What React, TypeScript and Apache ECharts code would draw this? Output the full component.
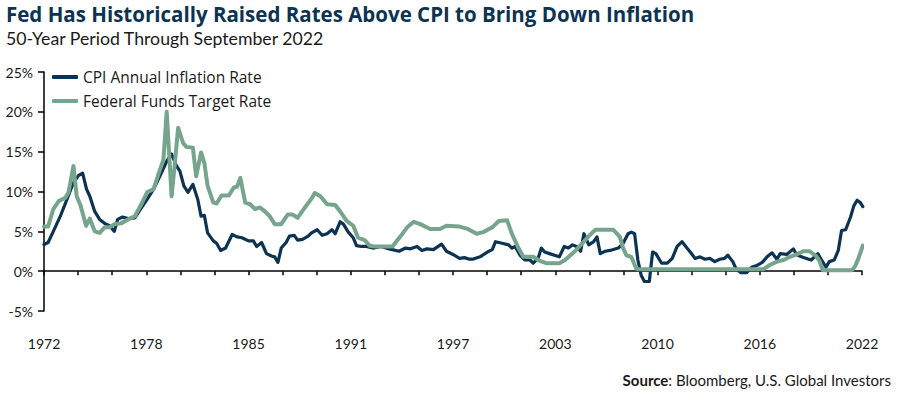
import React, { useEffect, useRef } from "react";
import * as echarts from "echarts";

const tickLabels = ["1972", "1978", "1985", "1991", "1997", "2003", "2010", "2016", "2022"];

const cpiYears = [
  1972.0, 1972.25, 1972.57, 1973.0, 1973.4, 1973.8, 1974.1, 1974.36, 1974.6, 1974.8,
  1975.1, 1975.4, 1975.7, 1976.0, 1976.3, 1976.5, 1976.8, 1977.15, 1977.55, 1977.9,
  1978.3, 1978.7, 1979.1, 1979.5, 1979.8, 1980.1, 1980.3, 1980.55, 1980.8, 1981.1,
  1981.4, 1981.6, 1981.8, 1982.0, 1982.35, 1982.55, 1982.8, 1983.1, 1983.5, 1983.8,
  1984.1, 1984.5, 1984.8, 1985.0, 1985.3, 1985.6, 1985.9, 1986.1, 1986.3, 1986.5,
  1986.8, 1987.0, 1987.3, 1987.5, 1987.8, 1988.15, 1988.35, 1988.7, 1989.0, 1989.3,
  1989.6, 1989.8, 1990.1, 1990.3, 1990.6, 1990.9, 1991.1, 1991.4, 1991.7, 1992.1,
  1992.6, 1993.1, 1993.7, 1994.1, 1994.4, 1994.8, 1995.1, 1995.4, 1995.8, 1996.3,
  1996.6, 1997.0, 1997.4, 1997.7, 1998.0, 1998.2, 1998.65, 1999.1, 1999.4, 1999.6,
  2000.0, 2000.4, 2000.6, 2000.8, 2001.1, 2001.4, 2001.7, 2001.9, 2002.2, 2002.4,
  2002.6, 2002.9, 2003.2, 2003.5, 2003.8, 2004.05, 2004.3, 2004.55, 2004.8, 2005.0,
  2005.3, 2005.6, 2005.8, 2006.0, 2006.3, 2006.6, 2007.1, 2007.4, 2007.7, 2007.9,
  2008.1, 2008.3, 2008.5, 2008.7, 2009.0, 2009.2, 2009.4, 2009.75, 2010.1, 2010.4,
  2010.7, 2011.0, 2011.3, 2011.5, 2011.8, 2012.1, 2012.4, 2012.7, 2013.0, 2013.3,
  2013.6, 2013.8, 2014.1, 2014.3, 2014.6, 2014.95, 2015.25, 2015.56, 2015.9, 2016.2,
  2016.5, 2016.8, 2017.0, 2017.4, 2017.8, 2018.0, 2018.3, 2018.6, 2018.9, 2019.3,
  2019.5, 2019.8, 2020.0, 2020.3, 2020.55, 2020.75, 2021.0, 2021.3, 2021.5, 2021.7,
  2021.9, 2022.05,
];
const cpiValues = [
  3.35, 3.6, 5.0, 6.9, 9.0, 11.1, 12.0, 12.3, 10.3, 9.4,
  7.5, 6.5, 6.0, 5.7, 5.0, 6.5, 6.8, 6.6, 6.7, 7.8,
  9.0, 10.3, 12.0, 13.8, 14.7, 13.2, 12.6, 10.7, 9.9, 10.9,
  9.0, 6.9, 7.0, 4.8, 3.8, 3.5, 2.6, 2.9, 4.6, 4.3,
  4.2, 3.8, 3.8, 3.1, 3.6, 2.2, 1.9, 1.8, 1.1, 2.9,
  3.6, 4.4, 4.5, 3.9, 4.0, 4.4, 4.8, 5.2, 4.5, 4.7,
  5.2, 4.7, 6.2, 5.9, 4.9, 4.2, 3.2, 3.1, 3.1, 2.9,
  3.1, 2.8, 2.5, 2.9, 2.8, 3.1, 2.6, 2.8, 2.7, 3.4,
  2.5, 2.1, 1.6, 1.7, 1.5, 1.5, 1.8, 2.4, 2.7, 3.7,
  3.5, 3.3, 2.9, 3.1, 2.0, 1.4, 1.4, 1.0, 1.6, 2.9,
  2.4, 2.2, 2.0, 1.8, 3.1, 2.9, 3.3, 3.1, 2.5, 4.7,
  3.3, 3.7, 4.3, 2.2, 2.5, 2.6, 2.9, 3.5, 4.7, 4.9,
  4.7, 1.4, -0.5, -1.3, -1.3, 2.4, 2.2, 1.0, 1.0, 1.6,
  3.1, 3.7, 2.9, 2.4, 1.6, 1.8, 1.5, 1.6, 1.2, 1.5,
  1.6, 2.0, 1.2, 0.3, -0.2, -0.2, 0.5, 0.7, 1.1, 1.8,
  2.3, 1.5, 2.2, 2.1, 2.8, 2.1, 1.8, 1.6, 1.4, 2.2,
  1.5, 0.5, 1.2, 1.4, 2.6, 5.1, 5.2, 6.8, 8.2, 8.9,
  8.6, 8.1,
];

const fedYears = [
  1972.0, 1972.25, 1972.57, 1972.9, 1973.3, 1973.5, 1973.8, 1974.0, 1974.24, 1974.57,
  1974.8, 1975.1, 1975.4, 1975.7, 1976.0, 1976.3, 1976.7, 1977.15, 1977.55, 1977.9,
  1978.3, 1978.7, 1979.0, 1979.3, 1979.5, 1979.8, 1980.0, 1980.2, 1980.5, 1980.7,
  1981.1, 1981.3, 1981.6, 1981.8, 1982.0, 1982.35, 1982.55, 1982.85, 1983.3, 1983.6,
  1983.8, 1984.0, 1984.3, 1984.6, 1984.9, 1985.2, 1985.5, 1985.8, 1986.1, 1986.5,
  1986.9, 1987.2, 1987.5, 1987.95, 1988.35, 1988.55, 1988.9, 1989.3, 1989.8, 1990.1,
  1990.5, 1990.9, 1991.2, 1991.6, 1991.9, 1992.2, 1993.3, 1993.8, 1994.2, 1994.6,
  1995.0, 1995.6, 1996.2, 1996.6, 1997.4, 1997.9, 1998.45, 1998.85, 1999.4, 1999.8,
  2000.3, 2000.6, 2001.0, 2001.3, 2001.9, 2002.3, 2002.7, 2003.5, 2003.85, 2004.4,
  2004.9, 2005.3, 2005.7, 2006.8, 2007.2, 2007.4, 2007.6, 2007.9, 2008.2, 2008.4,
  2015.97, 2016.4, 2016.8, 2017.2, 2017.6, 2018.0, 2018.4, 2018.8, 2019.2, 2019.4,
  2019.6, 2021.4, 2021.6, 2021.8, 2022.05,
];
const fedValues = [
  5.6, 5.6, 7.8, 8.8, 9.2, 9.9, 13.2, 9.4, 8.2, 5.7,
  6.6, 5.0, 4.8, 5.5, 5.5, 5.9, 6.0, 6.5, 6.9, 8.2,
  9.9, 10.3, 12.2, 14.0, 20.0, 9.4, 13.6, 18.0, 16.1, 15.6,
  15.5, 11.9, 14.9, 13.6, 10.7, 8.6, 8.5, 9.5, 9.5, 10.5,
  10.6, 11.7, 8.6, 8.4, 7.8, 8.0, 7.5, 6.9, 5.9, 5.9,
  7.1, 7.1, 6.7, 8.0, 9.1, 9.8, 9.4, 8.4, 8.3, 7.5,
  6.3, 5.7, 4.2, 3.9, 3.2, 3.1, 3.1, 4.4, 5.5, 6.2,
  5.9, 5.3, 5.3, 5.7, 5.6, 5.3, 4.7, 4.9, 5.5, 6.3,
  6.4, 4.7, 2.9, 1.8, 1.8, 1.3, 1.0, 1.0, 1.4, 2.4,
  3.5, 4.4, 5.2, 5.2, 4.3, 2.9, 2.0, 1.8, 0.3, 0.25,
  0.25, 0.8, 1.2, 1.4, 1.8, 2.1, 2.5, 2.5, 1.9, 1.3,
  0.13, 0.13, 0.7, 1.7, 3.2,
];

const START_YEAR = 1972;
const END_YEAR = 2022;
const TICK_COUNT = 24;

const toX = (y: number) => ((y - START_YEAR) * TICK_COUNT) / (END_YEAR - START_YEAR);

const NAVY = "#0c3352";
const GREEN = "#76a48c";
const FONT = "Lato, 'Open Sans', sans-serif";
const WIDE = "'Open Sans', Lato, sans-serif";

export default function App() {
  const ref = useRef<HTMLDivElement>(null);
  useEffect(() => {
    if (!ref.current) return;
    const chart = echarts.init(ref.current, undefined, { renderer: "svg" });
    const xLabel = (v: number) => {
      const idx = Math.round(v);
      return idx % 3 === 0 ? tickLabels[idx / 3] ?? "" : "";
    };
    chart.setOption({
      animation: false,
      textStyle: { fontFamily: FONT },
      grid: { left: 44, right: 38, top: 72, bottom: 84, containLabel: false },
      legend: {
        orient: "vertical",
        left: 52,
        top: 69,
        padding: 0,
        itemWidth: 26,
        itemHeight: 4,
        itemGap: 8,
        icon: "roundRect",
        textStyle: { fontSize: 15.5, color: "#1a1a1a", fontFamily: WIDE, lineHeight: 16, padding: [0, 0, 0, 0] },
        data: ["CPI Annual Inflation Rate", "Federal Funds Target Rate"],
      },
      xAxis: [
        {
          type: "value",
          min: 0,
          max: TICK_COUNT,
          interval: 1,
          axisLine: { show: true, onZero: true, lineStyle: { color: "#000", width: 1.5 } },
          axisTick: { show: true, length: 4, lineStyle: { color: "#000", width: 1.5 } },
          axisLabel: { show: false },
          splitLine: { show: false },
        },
        {
          type: "value",
          position: "bottom",
          min: 0,
          max: TICK_COUNT,
          interval: 1,
          axisLine: { show: false, onZero: false },
          axisTick: { show: false },
          axisLabel: {
            show: true,
            margin: 25,
            fontSize: 14,
            color: "#1a1a1a",
            fontFamily: FONT,
            formatter: xLabel,
          },
          splitLine: { show: false },
        },
      ],
      yAxis: {
        type: "value",
        min: -5,
        max: 25,
        interval: 5,
        axisLine: { show: true, lineStyle: { color: "#000", width: 1.5 } },
        axisTick: { show: true, length: 6, lineStyle: { color: "#000", width: 1.5 } },
        axisLabel: { margin: 11, fontSize: 14, color: "#1a1a1a", fontFamily: FONT, formatter: "{value}%" },
        splitLine: { show: false },
      },
      series: [
        {
          name: "CPI Annual Inflation Rate",
          type: "line",
          xAxisIndex: 0,
          showSymbol: false,
          symbol: "none",
          color: NAVY,
          lineStyle: { color: NAVY, width: 3.2, cap: "round", join: "round" },
          data: cpiYears.map((y, i) => [toX(y), cpiValues[i]]),
        },
        {
          name: "Federal Funds Target Rate",
          type: "line",
          xAxisIndex: 0,
          showSymbol: false,
          symbol: "none",
          color: GREEN,
          lineStyle: { color: GREEN, width: 4, cap: "round", join: "round" },
          data: fedYears.map((y, i) => [toX(y), fedValues[i]]),
        },
      ],
      graphic: [
        {
          type: "text",
          left: 6,
          top: 3,
          style: {
            text: "Fed Has Historically Raised Rates Above CPI to Bring Down Inflation",
            fontSize: 20.5,
            fontWeight: "bold",
            fontFamily: WIDE,
            fill: NAVY,
          },
        },
        {
          type: "text",
          left: 6,
          top: 29,
          style: {
            text: "50-Year Period Through September 2022",
            fontSize: 17.7,
            fontFamily: FONT,
            fill: "#1a1a1a",
          },
        },
        {
          type: "text",
          right: 9,
          top: 372,
          style: {
            text: "{b|Source}: Bloomberg, U.S. Global Investors",
            fontSize: 15,
            fontFamily: FONT,
            fill: "#1a1a1a",
            rich: { b: { fontWeight: "bold", fontSize: 15, fontFamily: FONT, fill: "#1a1a1a" } },
          },
        },
      ],
    });
    return () => chart.dispose();
  }, []);
  return <div ref={ref} style={{ width: 900, height: 395, position: "absolute", left: 0, top: 0 }} />;
}
